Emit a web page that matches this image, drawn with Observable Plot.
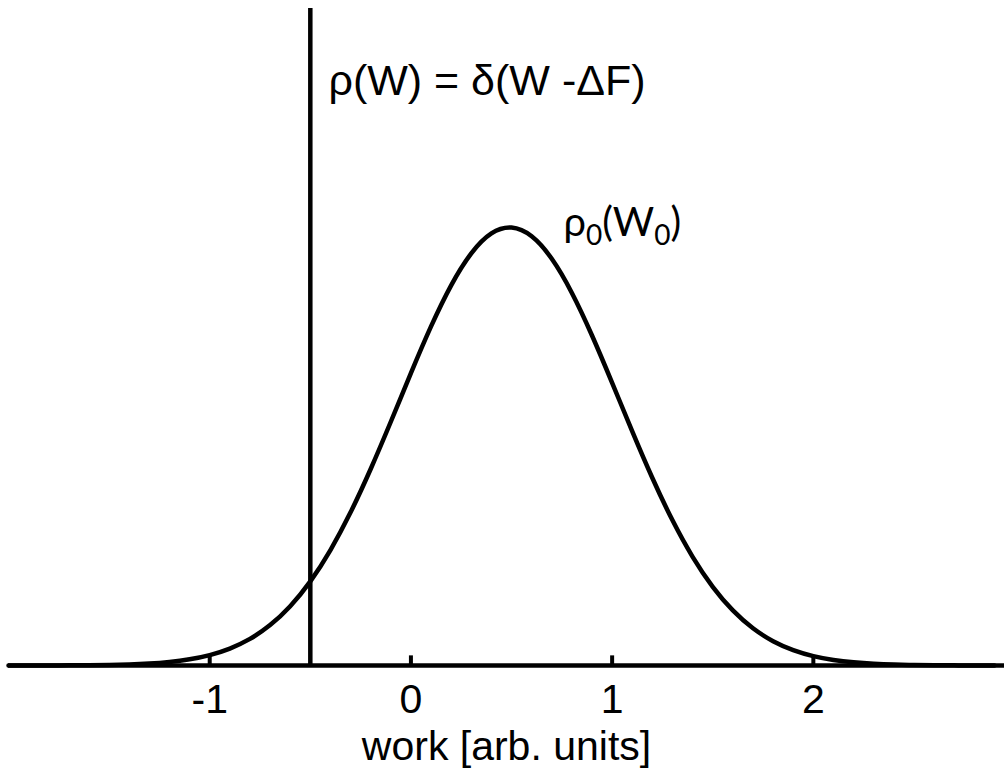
<!DOCTYPE html>
<html><head><meta charset="utf-8">
<script src="https://cdn.jsdelivr.net/npm/d3@7"></script>
<script src="https://cdn.jsdelivr.net/npm/@observablehq/plot@0.6"></script>
<style>html,body{margin:0;padding:0;background:#fff} svg{display:block}</style>
</head><body><div id="chart"></div>
<script>
// work values (arb. units) and relative density of rho0(W0)
const workX = [-2.0,-1.9,-1.8,-1.7,-1.6,-1.5,-1.4,-1.3,-1.2,-1.1,-1.0,-0.9,-0.8,-0.7,-0.6,-0.5,-0.4,-0.3,-0.2,-0.1,
  0.0,0.1,0.2,0.3,0.4,0.5,0.6,0.7,0.8,0.9,1.0,1.1,1.2,1.3,1.4,1.5,1.6,1.7,1.8,1.9,2.0,2.1,2.2,2.3,2.4,2.5,2.6,2.7,2.8,2.9];
const density = [0.0000,0.0001,0.0001,0.0003,0.0006,0.0013,0.0024,0.0045,0.0082,0.0142,0.0238,0.0387,0.0607,0.0922,0.1353,0.1920,0.2636,0.3497,0.4487,0.5565,
  0.6675,0.7741,0.8680,0.9410,0.9865,0.9998,0.9798,0.9285,0.8506,0.7535,0.6454,0.5345,0.4280,0.3314,0.2481,0.1796,0.1257,0.0850,0.0556,0.0352,0.0215,0.0127,0.0073,0.0040,0.0021,0.0011,0.0006,0.0003,0.0001,0.0001];
const tickValues = [-1, 0, 1, 2];
const tickLabels = ["-1", "0", "1", "2"];
const deltaF = [-0.5];
const xTitle = "work [arb. units]";
const deltaLabel = "ρ(W) = δ(W -ΔF)";
const rhoLabel = "ρ0(W0)";

const curve = workX.map((x, i) => ({x, y: density[i]}));

const chart = Plot.plot({
  width: 1004,
  height: 772,
  marginLeft: 8,
  marginRight: 0,
  marginTop: 8,
  marginBottom: 107,
  style: {fontFamily: "'Liberation Sans', Arial, sans-serif", color: "black", background: "white"},
  x: {domain: [-2, 2.95], axis: null},
  y: {domain: [0, 1.5], axis: null},
  marks: [
    Plot.line(curve, {x: "x", y: "y", strokeWidth: 4.5, curve: "natural", stroke: "black"}),
    Plot.ruleX(deltaF, {strokeWidth: 4.5, stroke: "black"}),
    Plot.ruleY([0], {strokeWidth: 4.5, stroke: "black"}),
    Plot.ruleX(tickValues, {y1: 0, y2: 0.022, strokeWidth: 4, stroke: "black"}),
    Plot.text(tickValues, {x: d => d, y: 0, dy: 34, text: (d, i) => tickLabels[i], fontSize: 41, fill: "black"}),
    Plot.text([xTitle], {frameAnchor: "bottom", dy: 94, fontSize: 41, fill: "black"}),
    Plot.text([deltaLabel], {x: -0.41, y: 1.334, textAnchor: "start", fontSize: 43, fill: "black"}),
    Plot.text([rhoLabel], {x: 0.758, y: 1.01, textAnchor: "start", fontSize: 40, fill: "black",
      fontFamily: "Lato, 'Open Sans', sans-serif", className: "rho0"})
  ]
});
document.getElementById("chart").appendChild(chart);

// subscripts for rho0(W0)
chart.querySelectorAll(".rho0 text").forEach(t => {
  t.innerHTML = 'ρ<tspan dy="9" font-size="28">0</tspan><tspan dy="-9">(W</tspan><tspan dy="9" font-size="28">0</tspan><tspan dy="-9">)</tspan>';
});
</script>
</body></html>
